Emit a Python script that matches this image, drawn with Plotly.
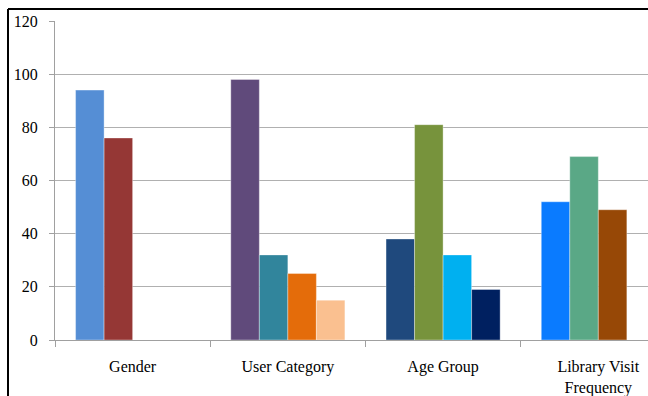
import plotly.graph_objects as go

# Survey breakdown by category (percent of respondents)
categories = ["Gender", "User Category", "Age Group", "Library Visit<br>Frequency"]
gender = [94, 76]
user_category = [98, 32, 25, 15]
age_group = [38, 81, 32, 19]
visit_frequency = [52, 69, 49]

gender_colors = ["#558ED5", "#953735"]
user_category_colors = ["#604A7B", "#31859C", "#E46C0A", "#FAC090"]
age_group_colors = ["#1F497D", "#77933C", "#00B0F0", "#002060"]
visit_frequency_colors = ["#0A7BFF", "#5AA886", "#974806"]

groups = [gender, user_category, age_group, visit_frequency]
group_colors = [gender_colors, user_category_colors, age_group_colors, visit_frequency_colors]
n_slots = max(len(g) for g in groups)

fig = go.Figure()
for slot in range(n_slots):
    ys = [g[slot] if slot < len(g) else None for g in groups]
    cs = [c[slot] if slot < len(c) else "rgba(0,0,0,0)" for c in group_colors]
    fig.add_trace(go.Bar(
        x=categories, y=ys,
        marker=dict(color=cs, line=dict(color="rgba(255,255,255,0.35)", width=1)),
        showlegend=False,
    ))

font = dict(family="Times New Roman, serif", size=16, color="#000000")

fig.update_layout(
    width=648, height=396,
    margin=dict(l=55, r=0, t=21, b=56),
    paper_bgcolor="white", plot_bgcolor="white",
    barmode="group", bargap=0.265, bargroupgap=0,
    font=font,
    xaxis=dict(
        range=[-0.5, 3.32],
        showline=True, linecolor="#A0A0A0", linewidth=1,
        ticks="outside", tickson="boundaries", ticklen=6, tickcolor="#A0A0A0",
        showgrid=False, tickfont=font, ticklabelstandoff=12,
    ),
    yaxis=dict(
        range=[0, 120], tickvals=[0, 20, 40, 60, 80, 100, 120],
        showline=True, linecolor="#A0A0A0", linewidth=1,
        ticks="outside", ticklen=5, tickcolor="#A0A0A0",
        showgrid=True, gridcolor="#B0B0B0", gridwidth=1,
        zeroline=False, tickfont=font, ticklabelstandoff=8,
    ),
    shapes=[
        # outer frame (top and left edges)
        dict(type="line", xref="paper", yref="paper",
             x0=(8 - 55) / 593, x1=1.0, y0=(340 - 9) / 319, y1=(340 - 9) / 319,
             line=dict(color="black", width=2)),
        dict(type="line", xref="paper", yref="paper",
             x0=(8 - 55) / 593, x1=(8 - 55) / 593, y0=(340 - 9) / 319, y1=-56 / 319,
             line=dict(color="black", width=2)),
    ],
)

fig.write_html("out.html")
